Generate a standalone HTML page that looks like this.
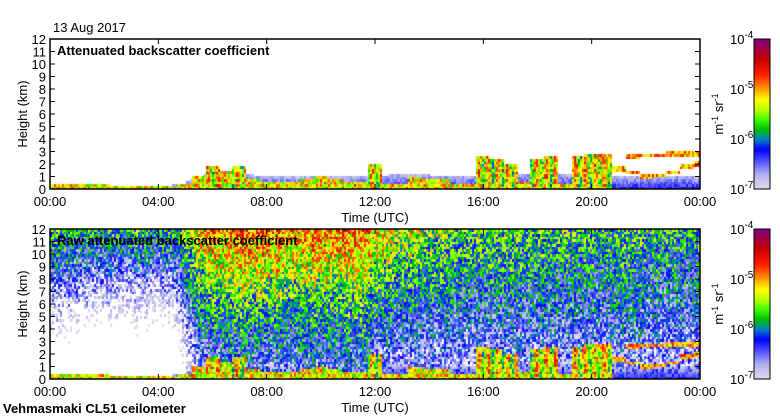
<!DOCTYPE html>
<html><head><meta charset="utf-8"><style>
html,body{margin:0;padding:0;background:#fff;}
#wrap{position:relative;width:780px;height:420px;overflow:hidden;font-family:"Liberation Sans",sans-serif;}
svg{position:absolute;left:0;top:0}
</style></head><body>
<div id="wrap">
<svg id="fig" width="780" height="420" xmlns="http://www.w3.org/2000/svg"></svg>
</div>
<script>
// half-hour resolution data, 0h..24h (49 values)
const hours = Array.from({length:49},(_, i)=>i*0.5);
const blTop = [0.3,0.3,0.3,0.3,0.3,0.3,0.3,0.3,0.3,0.3,0.5,1.0,1.3,1.4,1.3,1.1,0.9,0.9,0.9,0.9,1.0,0.9,0.9,1.0,1.0,1.1,1.1,1.1,1.1,1.0,1.0,1.0,1.1,1.1,1.2,1.2,1.2,1.2,1.2,1.1,1.1,1.0,1.0,1.0,1.0,1.0,1.0,1.0,1.0];
const cloudTop = [0.4,0.5,0.4,0.4,0.4,0.3,0.3,0.3,0.2,0.2,0.4,0.9,1.9,1.5,1.8,0.8,0.7,0.7,0.7,0.8,0.9,0.8,0.6,0.7,2.0,0.5,0.4,0.9,0.8,0.8,0.5,0.4,2.6,2.4,2.0,0.6,2.5,2.7,0.4,2.7,2.9,2.9,0.0,0.0,0.0,0.0,0.0,0.0,0.0];
const layer1 = [0,0,0,0,0,0,0,0,0,0,0,0,0,0,0,0,0,0,0,0,0,0,0,0,0,0,0,0,0,0,0,0,0,0,0,0,0,0,0,0,0,2.6,1.6,1.3,1.0,1.1,1.3,1.8,2.0];
const layer2 = [0,0,0,0,0,0,0,0,0,0,0,0,0,0,0,0,0,0,0,0,0,0,0,0,0,0,0,0,0,0,0,0,0,0,0,0,0,0,0,0,0,0,0,2.6,2.7,2.7,2.8,2.8,2.8];
const bgHigh = [-5.7,-5.7,-5.75,-5.8,-5.8,-5.8,-5.8,-5.8,-5.85,-5.85,-5.5,-5.1,-4.9,-4.85,-4.8,-4.8,-4.85,-4.9,-5.0,-4.9,-4.9,-4.85,-4.85,-4.9,-5.1,-5.3,-5.4,-5.4,-5.5,-5.5,-5.6,-5.6,-5.6,-5.6,-5.7,-5.7,-5.7,-5.7,-5.7,-5.75,-5.75,-5.8,-5.8,-5.8,-5.8,-5.85,-5.85,-5.85,-5.85];
const bgSlope = [0.2,0.21,0.22,0.22,0.22,0.22,0.22,0.22,0.23,0.23,0.17,0.15,0.15,0.15,0.15,0.15,0.15,0.15,0.14,0.14,0.14,0.14,0.14,0.14,0.14,0.13,0.12,0.12,0.11,0.11,0.1,0.1,0.1,0.1,0.09,0.09,0.09,0.09,0.09,0.085,0.085,0.08,0.08,0.08,0.08,0.08,0.08,0.08,0.08];
const xTickLabels = ["00:00","04:00","08:00","12:00","16:00","20:00","00:00"];
const yTickLabels = ["0","1","2","3","4","5","6","7","8","9","10","11","12"];
const cbLabels = ["-7","-6","-5","-4"];

const NS="http://www.w3.org/2000/svg";
const svg=document.getElementById('fig');
const X0=50,X1=700;
const panels=[{y0:39,y1:189,raw:false,title:"Attenuated backscatter coefficient"},{y0:229,y1:379,raw:true,title:"Raw attenuated backscatter coefficient"}];
const xs=h=>X0+(h/24)*(X1-X0);
function mk(tag,attrs,parent){const e=document.createElementNS(NS,tag);for(const k in attrs)e.setAttribute(k,attrs[k]);(parent||svg).appendChild(e);return e;}
function txt(s,x,y,opt){const t=mk('text',Object.assign({x:x,y:y,'font-size':13,'font-family':'Liberation Sans, sans-serif',fill:'#000'},opt||{}));t.textContent=s;return t;}
function hash(i,j){let h=(i*374761393+j*668265263)|0;h=(h^(h>>>13))*1274126177|0;return ((h^(h>>>16))>>>0)/4294967295;}
const stops=[[-7.0,[224,224,234]],[-6.7,[176,176,240]],[-6.4,[70,70,255]],[-6.2,[0,0,255]],[-6.0,[0,128,200]],[-5.8,[0,190,0]],[-5.6,[60,255,0]],[-5.4,[190,255,0]],[-5.2,[255,255,0]],[-5.0,[255,160,0]],[-4.7,[255,30,0]],[-4.4,[200,0,0]],[-4.0,[128,0,128]]];
function cmap(v){if(v<=stops[0][0])return stops[0][1];for(let k=1;k<stops.length;k++){if(v<=stops[k][0]){const a=stops[k-1],b=stops[k];const f=(v-a[0])/(b[0]-a[0]);return a[1].map((c,i)=>Math.round(c+(b[1][i]-c)*f));}}return stops[stops.length-1][1];}
const stepAt=(arr,h)=>arr[Math.min(48,Math.round(h*2))];
const lin=(arr,h)=>{const p=h*2,i=Math.min(47,Math.floor(p)),f=p-i;return arr[i]+(arr[i+1]-arr[i])*f;};

panels.forEach((P,pi)=>{
  const ys=z=>P.y1-(z/12)*(P.y1-P.y0);
  const canvasG=mk('g',{});
  const fo=mk('foreignObject',{x:X0,y:P.y0,width:X1-X0,height:P.y1-P.y0},canvasG);
  const cv=document.createElement('canvas');cv.width=X1-X0;cv.height=P.y1-P.y0;fo.appendChild(cv);
  const ctx=cv.getContext('2d');
  const NC=325,NR=60;
  for(let i=0;i<NC;i++){
    const h=(i+0.5)/NC*24;
    const bl=lin(blTop,h),ct=stepAt(cloudTop,h),l1=stepAt(layer1,h),l2=stepAt(layer2,h);
    const bh=lin(bgHigh,h),bs=lin(bgSlope,h);
    const colv=0.25*(hash(i*3+1,999)-0.5);
    for(let j=0;j<NR;j++){
      const z=(j+0.5)/NR*12;const r=hash(i+pi*7,j);const r2=hash(j+31,i+pi*13);
      let v=-99;
      if(z<bl) v=Math.max(v,-6.75+0.5*(1-z/bl)+0.3*(r-0.5));
      if(z<ct){const top=ct>1.5; v=Math.max(v,(top?-5.3:-5.2)+1.0*(r2-0.5)+ (top?0.35*Math.sin(i*1.3):0));}
      if(l1>0&&Math.abs(z-l1)<0.15) v=Math.max(v,-5.0+0.8*(r-0.5));
      if(l2>0&&Math.abs(z-l2)<0.15) v=Math.max(v,-5.0+0.8*(r2-0.5));
      if(P.raw){const bg=bh-bs*(12-z)+1.2*(r-0.5)+colv;if(bg>-7.05)v=Math.max(v,bg);}
      if(v<-7.05)continue;
      const c=cmap(v);ctx.fillStyle='rgb('+c.join(',')+')';
      const x=Math.floor(i*cv.width/NC),w=Math.ceil((i+1)*cv.width/NC)-x;
      const y=Math.floor(cv.height-(j+1)*cv.height/NR),hh=Math.ceil(cv.height-j*cv.height/NR)-y;
      ctx.fillRect(x,y,w,hh);
    }
  }
  const frame=mk('rect',{x:X0,y:P.y0,width:X1-X0,height:P.y1-P.y0,fill:'none',stroke:'#000','stroke-width':1.5});
  
  
  yTickLabels.forEach((lab,k)=>{
    const y=ys(k);
    mk('line',{x1:X0,x2:X0+5,y1:y,y2:y,stroke:'#000'});
    mk('line',{x1:X1-5,x2:X1,y1:y,y2:y,stroke:'#000'});
    const t=txt(lab,46,y+5,{'text-anchor':'end'});
    
    
  });
  xTickLabels.forEach((lab,k)=>{
    const x=xs(k*4);
    mk('line',{x1:x,x2:x,y1:P.y1,y2:P.y1-5,stroke:'#000'});
    mk('line',{x1:x,x2:x,y1:P.y0,y2:P.y0+5,stroke:'#000'});
    const t=txt(lab,x,P.y1+17,{'text-anchor':'middle'});
    
    
  });
  const yt=txt('Height (km)',0,0,{transform:'translate(27,'+((P.y0+P.y1)/2)+') rotate(-90)','text-anchor':'middle'});
  
  
  const xt=txt('Time (UTC)',375,P.y1+33,{'text-anchor':'middle'});
  
  
  const tt=txt(P.title,57,P.y0+16,{'font-weight':'bold'});
  
  
  const cbx=754,cbw=16;
  const cbG=mk('g',{});
  
  
  const n=75;
  for(let k=0;k<n;k++){const v=-7+3*(k+0.5)/n;const c=cmap(v);const y0=P.y1-(k+1)*(P.y1-P.y0)/n;mk('rect',{x:cbx,y:y0,width:cbw,height:(P.y1-P.y0)/n+0.6,fill:'rgb('+c.join(',')+')'},cbG);}
  mk('rect',{x:cbx,y:P.y0,width:cbw,height:P.y1-P.y0,fill:'none',stroke:'#000','stroke-width':1},cbG);
  cbLabels.forEach((e,k)=>{
    const y=P.y1-k*(P.y1-P.y0)/3;
    const t=txt('10',730,y+5,{});
    const s=mk('tspan',{dy:-6,'font-size':10});s.textContent=e;t.appendChild(s);
    
    
  });
  const u=txt('',0,0,{transform:'translate(723,'+((P.y0+P.y1)/2)+') rotate(-90)','text-anchor':'middle'});
  u.innerHTML='m<tspan dy="-5" font-size="9">-1</tspan><tspan dy="5"> sr</tspan><tspan dy="-5" font-size="9">-1</tspan>';
  
  
});
const d=txt('13 Aug 2017',53,32,{});


const s=txt('Vehmasmaki CL51 ceilometer',3,413,{'font-weight':'bold'});


</script>
</body></html>
